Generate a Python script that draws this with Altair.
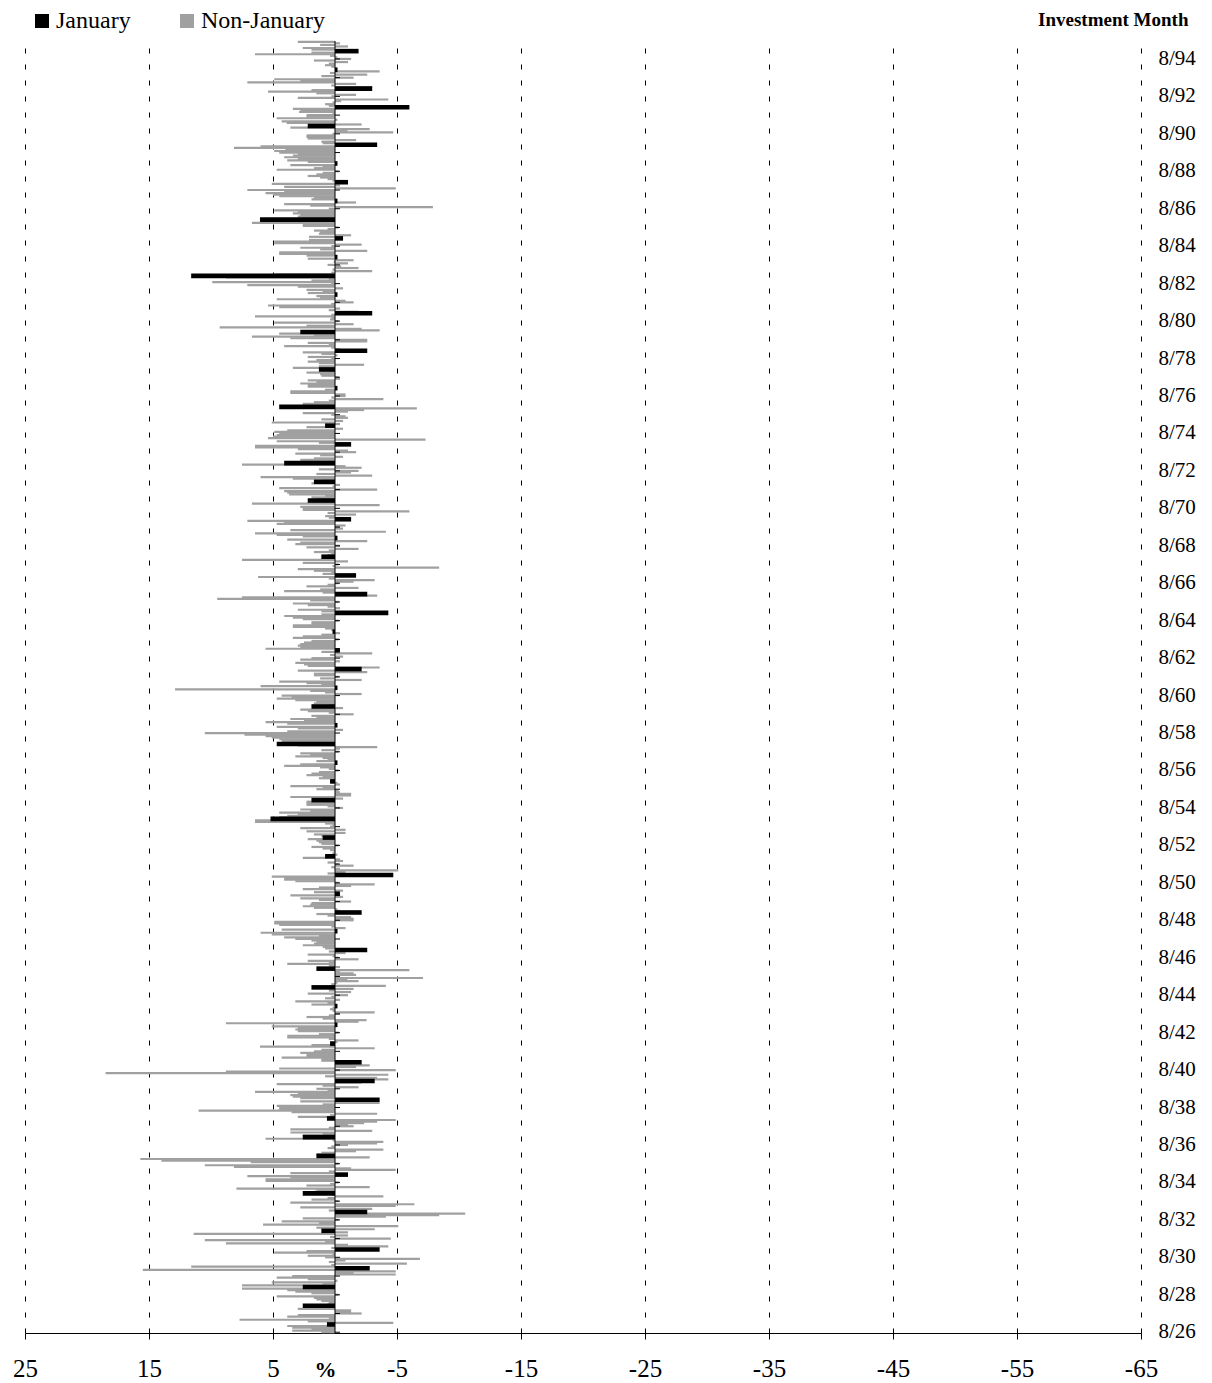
import altair as alt
import pandas as pd

# Monthly returns (%), newest month first within each block.
# Block 1: Jul 1995 back to Dec 1989
rets_jul95_dec89 = [3.0, -0.4, 1.2, -1.05, 2.6, 1.9, -1.9, 1.9, 6.45, 0.4,
    -0.2, -1.3, 1.7, -1.05, 0.5, 0.8, 0.3, -0.2, -0.2, -3.6,
    0.4, -2.6, 1.1, -1.5, 4.9, 2.8, 7.07, -1.7, 0.3, -3.0,
    -3.0, 1.9, 5.4, 1.5, -1.7, 0.3, 3.0, -4.3, -0.5, 0.2,
    0.8, 0.5, -6.0, 3.4, 2.8, 2.9, 0.2, 2.3, 2.3, 4.7,
    -0.2, 4.3, 3.9, -2.15, 2.2, 3.6, -2.8, -1.0, -4.7, 0.2,
    2.3, 2.3, 2.2, -1.7, 1.1, 1.0, -3.4, 6.0]
# Nov 1989 back to Mar 1984
rets_nov89_mar84 = [8.15, 4.0, 4.9, 4.5, 3.0, 3.4, 4.1, 3.0, 3.85, 2.2,
    -0.2, 3.6, 1.0, 1.7, 4.7, -0.3, 1.0, 1.5, 2.2, 1.2,
    0.6, 0.2, -1.05, 5.1, -0.4, 4.1, -4.9, 7.07, 4.1, 5.6,
    5.0, 4.5, 1.7, 1.9, -0.2, -1.7, 4.1, 2.0, -7.9, 0.5,
    4.9, 3.0, 3.4, 2.8, 3.0, 2.6, 6.05, 2.6, 6.7, 2.6,
    2.6, -0.3, 0.6, 1.7, 1.2, 1.3, -1.3, 2.1, -0.65, 2.1,
    4.9, 4.9, -2.15, 0.3, 2.8, 1.2, -2.6, 4.5, 4.5]
# Feb 1984 back to Apr 1978
rets_feb84_apr78 = [2.3, -0.2, 2.2, -1.5, 0.1, -1.05, 0.6, -0.5, -1.9, 0.2,
    -3.0, 0.3, 4.8, 11.6, 8.8, 0.5, 1.9, 9.9, 0.3, 7.07,
    3.0, -0.65, 2.3, 1.0, 2.2, -0.2, 1.5, 1.2, 4.7, -0.85,
    -1.5, 0.3, 5.4, 4.5, -0.4, 0.5, -1.9, -3.0, 0.3, 6.45,
    0.3, 0.4, -0.3, 4.9, -1.5, 2.3, 9.3, -2.15, -3.6, 2.8,
    4.5, 1.7, 6.7, 3.6, -2.6, -2.6, 2.2, 0.5, 4.1, 0.3,
    -0.4, -2.6, 2.6, 1.1, -0.2, 2.2, 0.3, 1.5, 2.2, 1.3]
# Mar 1978 back to Aug 1972
rets_mar78_aug72 = [-2.35, 1.3, 3.4, 1.3, 0.5, 2.3, 1.2, 1.1, -0.3, -0.4,
    2.2, 1.5, 2.8, 2.2, 2.2, -0.2, 0.8, 3.6, 3.6, -0.85,
    -0.85, 0.3, -3.9, 0.5, 1.7, 2.6, 2.6, 4.5, -6.6, -2.35,
    -1.05, 2.6, 0.3, -0.85, -1.05, 1.1, -0.65, 5.1, -0.4, 0.8,
    2.3, -0.65, 3.85, 4.9, 4.5, 4.7, 5.0, 5.4, -7.3, 4.7,
    1.3, -1.3, 6.45, 6.45, 3.0, -1.05, -1.7, 3.2, 1.2, -0.65,
    1.7, 2.8, 1.1, 4.1, 7.5, -0.85, -2.15, 1.3, -1.9]
# Jul 1972 back to Nov 1966
rets_jul72_nov66 = [-1.3, 1.5, -3.0, 6.0, 3.4, 1.0, 1.7, 1.9, -0.4, 0.2,
    4.5, -3.4, 4.1, 3.85, 3.7, 0.8, 1.9, 1.5, 2.2, 1.9,
    6.7, -3.6, 2.8, 2.6, 2.6, -6.0, 0.6, -1.7, 0.8, 0.5,
    -1.3, 7.07, 4.1, 4.7, -0.85, -0.4, -0.65, 3.6, -4.1, 6.45,
    4.7, 2.6, -0.2, 3.85, -2.6, 2.8, 3.2, -0.4, 2.3, -1.9,
    0.5, 1.7, 0.3, 0.6, 1.1, 0.5, 7.5, -1.05, 2.6, -0.3,
    0.2, -8.4, 3.0, 1.7, 0.3, 1.0, -1.7, 6.2, 0.5]
# Oct 1966 back to Feb 1961
rets_oct66_feb61 = [-3.2, -1.5, -0.3, 0.6, 2.3, -1.9, 1.2, 4.1, 1.0, -2.6,
    -3.4, 7.5, 9.5, 2.0, -0.3, 3.4, 2.2, 0.6, -0.4, 3.0,
    1.1, -4.3, 1.1, 4.1, 3.4, 2.6, -0.3, 1.9, 1.9, 3.4,
    3.4, 0.8, 0.3, 0.2, -0.4, 1.1, 2.6, 3.4, -0.3, 1.9,
    2.5, 2.8, 3.0, 2.8, 5.6, -0.4, 1.1, -3.0, 0.4, -0.65,
    1.9, 2.8, -0.4, 3.2, 2.5, 2.2, -3.6, -2.15, 3.0, -2.6,
    1.7, 1.7, -0.3, 1.2, -2.15, 4.5, 2.3, 1.1, 6.0]
# Jan 1961 back to May 1955
rets_jan61_may55 = [-0.2, 12.9, 2.0, 0.8, -2.15, 4.3, 3.5, 4.7, 3.2, 1.5,
    1.7, 0.5, 1.9, -0.65, 2.8, 2.2, 0.5, -1.5, 1.9, 1.5,
    3.6, 2.5, 5.6, 3.85, -0.2, 4.7, 3.0, -0.65, 3.85, 10.5,
    7.3, 5.6, 5.1, 4.5, 4.3, 3.0, 4.7, 3.0, -3.4, -0.4,
    1.1, -0.3, 2.8, 2.0, 3.2, 1.0, 0.6, 1.5, -0.2, 2.8,
    4.1, 1.2, 0.5, -0.3, 1.3, 1.9, 2.3, 1.0, 1.3, 0.3,
    0.4, -0.2, -0.4, 3.6, 1.0, 1.5, -0.3, -0.4, -1.3]
# Apr 1955 back to Aug 1949
rets_apr55_aug49 = [-1.3, 3.6, -0.65, 1.9, 2.3, 2.3, 2.3, 0.6, -0.65, 2.8,
    2.0, 4.5, 3.0, 3.85, 4.5, 5.2, 6.45, 6.45, 0.8, 0.2,
    0.4, 2.8, -0.85, 2.3, -0.85, 1.7, 1.1, 1.0, 2.2, 1.5,
    1.3, 1.1, -0.3, 1.9, 1.0, 0.4, 0.1, 0.2, -0.2, 0.8,
    2.6, -0.4, -0.65, 0.6, -0.3, -1.5, 0.3, -0.4, -5.1, -0.85,
    0.6, -4.7, 5.1, 4.1, 4.1, 3.2, -0.3, -3.2, -1.3, 1.3,
    2.6, -0.65, 1.7, -0.4, 3.6, -0.65, 2.8, 1.3, -1.3]
# Jul 1949 back to Nov 1943
rets_jul49_nov43 = [1.9, 2.0, 2.6, 1.7, -0.2, -0.4, -2.15, 1.5, 0.6, -1.3,
    -1.5, -1.5, 4.9, 4.9, 4.5, 0.3, -0.85, 4.3, -0.2, 6.0,
    5.1, 1.3, 4.1, 3.2, 1.9, 1.5, 1.7, 2.6, 1.0, 0.8,
    -2.6, 0.5, -0.85, 2.2, 0.2, -0.3, -1.9, 2.2, 0.5, 3.85,
    0.5, -0.4, 1.5, -6.0, -0.4, -1.5, -1.7, -0.3, -7.1, -1.0,
    -1.9, -0.2, 0.3, -4.1, 1.9, -1.5, 0.5, -1.3, 2.2, -1.05,
    0.3, 0.8, -0.4, 3.2, 0.6, 1.9, -0.2, 0.2, 0.4]
# Oct 1943 back to Feb 1938
rets_oct43_feb38 = [0.2, -3.2, -0.4, 0.5, 2.3, 1.0, -2.55, -1.9, 8.8, -0.2,
    5.1, 3.0, 3.2, 3.0, -0.3, 1.3, 3.85, 3.85, 0.5, -1.9,
    -0.2, 0.4, 1.9, 6.05, -3.2, 1.1, 1.7, 2.8, 2.3, 2.3,
    4.3, 1.1, 1.1, -2.15, -1.3, -2.8, -1.7, 4.5, -4.9, 8.8,
    18.5, -4.3, 0.8, -3.4, -4.3, -3.2, -2.15, 4.7, 1.0, -1.9,
    1.5, 0.6, 6.45, 3.0, 3.6, 3.4, 2.8, -3.6, 2.8, -3.6,
    1.0, 4.7, 4.5, 4.5, 11.0, 3.5, -3.4, 0.4, 3.0]
# Jan 1938 back to Apr 1932
rets_jan38_apr32 = [0.65, -4.9, -3.4, -2.35, -1.05, -1.5, 0.5, 3.6, -3.0, 3.6,
    1.0, 2.6, 2.6, 5.6, 0.2, -3.9, -3.4, -1.05, 0.3, 0.6,
    -3.9, -1.7, 1.1, 1.5, 1.5, -2.8, 15.7, 14.0, 6.8, -0.3,
    10.5, 8.15, -1.3, -4.9, 0.5, 3.6, -1.05, 7.07, 3.6, 5.6,
    5.6, -0.3, 0.4, 2.3, -2.8, 7.95, 1.5, 1.7, 2.6, 0.2,
    -3.9, 0.6, 1.9, -0.3, 3.6, -6.4, -4.9, 2.8, -3.0, 0.5,
    -2.6, -10.5, -8.4, -4.1, 2.6, -0.3, 4.3, 1.3, 5.8, -5.1]
# Mar 1932 back to Aug 1926
rets_mar32_aug26 = [1.5, -3.2, 1.1, -1.05, 11.4, -1.05, 0.4, -4.5, 10.5, 0.8,
    8.8, -1.05, -4.3, 0.3, -3.6, 2.3, 4.9, 0.2, 2.2, 0.8,
    -6.85, -0.85, 0.5, -5.8, 0.3, 11.6, -2.8, 15.5, -4.9, -1.5,
    -4.9, 3.45, 4.7, 2.2, -0.2, 5.1, 1.0, 7.5, 2.6, 7.5,
    3.85, 3.2, 1.9, -0.3, 4.7, 1.7, 1.5, 1.1, 0.5, 0.6,
    2.6, 0.6, 3.0, -1.3, -1.3, -2.15, 3.0, 3.85, 0.5, 7.7,
    2.2, -4.7, 0.65, 3.85, 3.45, 1.9, 3.45, 1.1]

blocks = [rets_jul95_dec89, rets_nov89_mar84, rets_feb84_apr78, rets_mar78_aug72,
          rets_jul72_nov66, rets_oct66_feb61, rets_jan61_may55, rets_apr55_aug49,
          rets_jul49_nov43, rets_oct43_feb38, rets_jan38_apr32, rets_mar32_aug26]

series_names = ["January", "Non-January"]
series_colors = ["#000000", "#a0a0a0"]
x_ticks = [-65, -55, -45, -35, -25, -15, -5, 5, 15, 25]
START_YEAR, START_MONTH = 1926, 8

newest_first = [v for b in blocks for v in b]
chrono = newest_first[::-1]
rows = []
for i, v in enumerate(chrono):
    yr = START_YEAR + (START_MONTH - 1 + i) // 12
    mo = (START_MONTH - 1 + i) % 12 + 1
    rows.append({"key": f"{yr}-{mo:02d}", "ret": v,
                 "type": "January" if mo == 1 else "Non-January",
                 "aug": mo == 8})
df = pd.DataFrame(rows)
keys_desc = list(df["key"])[::-1]
label_keys = [k for k in df["key"] if k.endswith("-08") and int(k[:4]) % 2 == 0]

FONT = "Liberation Serif"

xscale = alt.Scale(domain=[-65, 25], reverse=True, nice=False)
yscale = alt.Scale(domain=keys_desc, paddingInner=0, paddingOuter=0)

x_axis = alt.Axis(values=x_ticks, labelExpr="toString(datum.value)",
                  grid=True, gridColor="black", gridDash=[5, 11], gridWidth=1,
                  domain=True, domainColor="black", domainWidth=1,
                  ticks=True, tickColor="black", tickSize=6, tickWidth=1,
                  labelFont=FONT, labelFontSize=25, labelColor="black",
                  labelPadding=29, labelBaseline="middle", labelFlush=False,
                  labelOverlap=False,
                  title="%", titleFont=FONT, titleFontSize=22, titleFontWeight="bold",
                  titleColor="black", titleX=300, titleY=36, titleBaseline="middle",
                  titleAlign="center")

y_axis = alt.Axis(orient="right", values=label_keys,
                  labelExpr="toNumber(substring(datum.value, 5, 7)) + '/' + substring(datum.value, 2, 4)",
                  ticks=False, domain=False, grid=False,
                  labelFont=FONT, labelFontSize=21, labelColor="black", labelPadding=17,
                  labelOverlap=False, labelFlush=False,
                  title="Investment Month", titleAngle=0, titleFont=FONT, titleFontSize=19,
                  titleFontWeight="bold", titleColor="black", titleAlign="right",
                  titleBaseline="middle", titleX=47, titleY=-22)

x_enc = alt.X("ret:Q", scale=xscale, axis=x_axis)
y_enc = alt.Y("key:O", scale=yscale, axis=y_axis)
color_enc = alt.Color("type:N",
                      scale=alt.Scale(domain=series_names, range=series_colors),
                      legend=alt.Legend(title=None, orient="none", legendX=5, legendY=-32,
                                        direction="horizontal", symbolType="square",
                                        symbolSize=196, symbolStrokeWidth=0,
                                        labelFont=FONT, labelFontSize=24, labelColor="black",
                                        labelOffset=2, columnPadding=44))

gray = alt.Chart(df).transform_filter("datum.type == 'Non-January'").mark_bar(height=2.2).encode(
    x=x_enc, y=y_enc, color=color_enc)
black = alt.Chart(df).transform_filter("datum.type == 'January'").mark_bar(height=4.6).encode(
    x=x_enc, y=y_enc, color=color_enc)
ticks = alt.Chart(df).transform_filter("datum.aug").mark_rule(color="black", strokeWidth=1).encode(
    x=alt.X(datum=0, scale=xscale, axis=x_axis), x2=alt.X2(datum=-0.4), y=y_enc)
zero = alt.Chart(pd.DataFrame({"ret": [0]})).mark_rule(color="black", strokeWidth=1).encode(
    x=x_enc)

chart = alt.layer(gray, black, ticks, zero).properties(
    width=1116, height=1292,
    padding={"left": 17, "top": 33, "right": 60, "bottom": 50},
    autosize=alt.AutoSizeParams(type="none"),
).configure(font=FONT).configure_view(strokeWidth=0)

chart.save("out.html", embed_options={"renderer": "svg", "actions": False})
